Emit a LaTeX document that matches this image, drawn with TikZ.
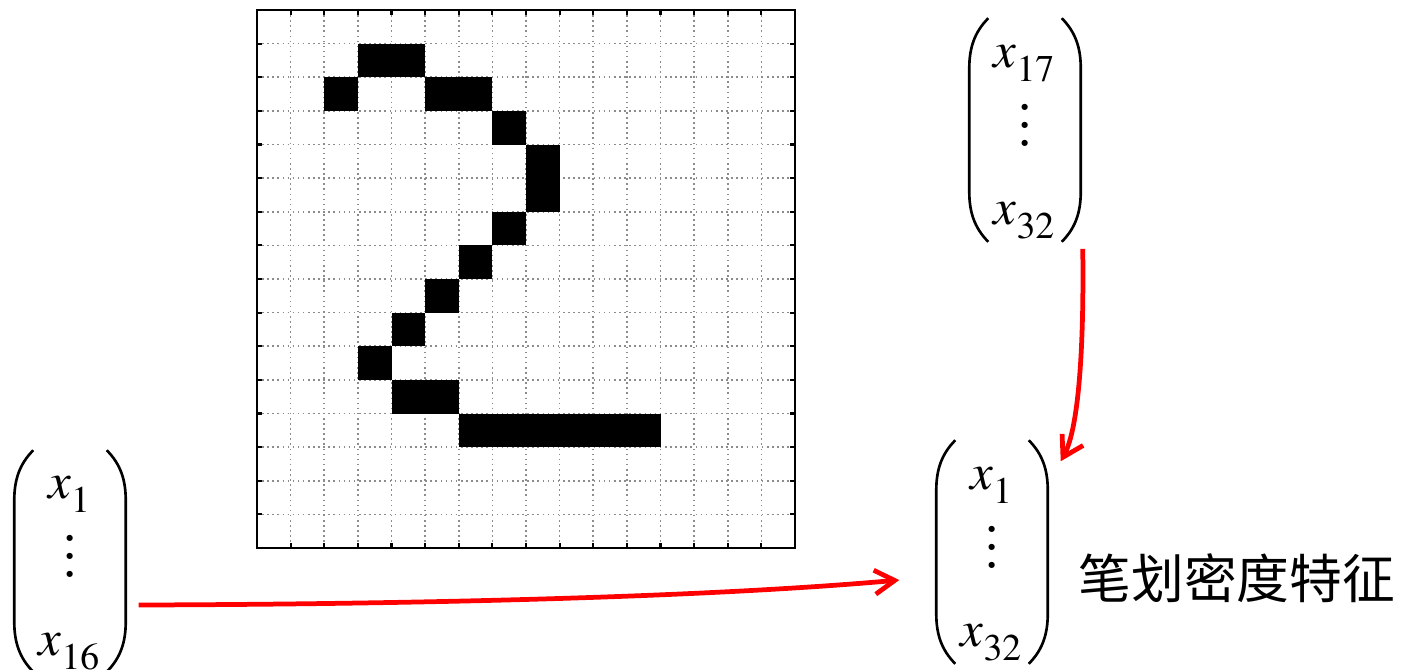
\documentclass[tikz,border=0pt]{standalone}
\usepackage{mathptmx}
\usepackage[no-math]{fontspec}
\newfontfamily\cjk{Noto Sans CJK SC}
\usetikzlibrary{arrows.meta}
\renewcommand{\arraystretch}{1.32}

\begin{document}
\begin{tikzpicture}[
    x=0.01cm, y=-0.01cm,
    gridline/.style={gray!90, densely dotted, line width=0.45pt},
    frame/.style={black, line width=0.6pt},
    pixel/.style={fill=black},
    vec/.style={inner sep=0pt, minimum width=1.1cm, text height=1.2cm, text depth=0.94cm,
                font=\fontsize{14.5}{17}\selectfont},
    paren/.style={black, line width=0.75pt},
    feat/.style={font=\cjk\fontsize{15}{18}\selectfont, anchor=west, inner sep=0pt},
    link/.style={red, line width=1.35pt, -{Straight Barb[length=2mm, width=2.4mm]}}
]
    \useasboundingbox (0,0) rectangle (1401,669);
    \def\cell{33.625}
    \def\xs#1{x_{\lower1.8pt\hbox{$\scriptstyle #1$}}}
    \def\vd{\smash{\scalebox{1.25}{$\vdots$}}}

    % ---- 16x16 grid ----
    \foreach \i in {1,...,15} {
        \draw[gridline] (257+\i*\cell,10) -- (257+\i*\cell,548);
        \draw[gridline] (257,10+\i*\cell) -- (795,10+\i*\cell);
        \draw[frame] (257+\i*\cell,548) -- ++(0,-5);
        \draw[frame] (257+\i*\cell,10) -- ++(0,5);
        \draw[frame] (257,10+\i*\cell) -- ++(5,0);
        \draw[frame] (795,10+\i*\cell) -- ++(-5,0);
    }

    % ---- the digit ----
    \foreach \r/\c in {1/3,1/4,2/2,2/5,2/6,3/7,4/8,5/8,6/7,7/6,8/5,9/4,
                       10/3,11/4,11/5,12/6,12/7,12/8,12/9,12/10,12/11} {
        \fill[pixel] (257+\c*\cell,10+\r*\cell) rectangle ++(\cell,\cell);
    }
    \draw[frame] (257,10) rectangle (795,548);

    % ---- feature vectors ----
    \node[vec, minimum height=2.2cm] (lv) at (70,561)
        {$\begin{array}{c} \xs{1}\\ \vd\\ \xs{16} \end{array}$};
    \node[vec, minimum height=2.22cm] (tv) at (1025,130)
        {$\begin{array}{c} \xs{17}\\ \vd\\ \xs{32} \end{array}$};
    \node[vec, minimum height=2.22cm] (rv) at (992,552)
        {$\begin{array}{c} \xs{1}\\ \vd\\ \xs{32} \end{array}$};
    \node[feat] (name) at (1078,578) {笔划密度特征};

    % ---- round brackets ----
    \foreach \v in {lv,tv,rv} {
        \draw[paren] ([shift={(19,0)}]\v.north west)
            .. controls ([shift={(5,14)}]\v.north west) and ([shift={(0,30)}]\v.north west) .. ([shift={(0,50)}]\v.north west)
            -- ([shift={(0,-50)}]\v.south west)
            .. controls ([shift={(0,-30)}]\v.south west) and ([shift={(5,-14)}]\v.south west) .. ([shift={(19,0)}]\v.south west);
        \draw[paren] ([shift={(-19,0)}]\v.north east)
            .. controls ([shift={(-5,14)}]\v.north east) and ([shift={(0,30)}]\v.north east) .. ([shift={(0,50)}]\v.north east)
            -- ([shift={(0,-50)}]\v.south east)
            .. controls ([shift={(0,-30)}]\v.south east) and ([shift={(-5,-14)}]\v.south east) .. ([shift={(-19,0)}]\v.south east);
    }

    % ---- arrows ----
    \draw[link] ([shift={(13,44)}]lv.east) .. controls (450,604) and (720,596) .. ([shift={(-37,28)}]rv.west);
    \draw[link] ([shift={(2,7)}]tv.south east) .. controls (1084,345) and (1079,428) .. ([shift={(13,21)}]rv.north east);
\end{tikzpicture}
\end{document}
